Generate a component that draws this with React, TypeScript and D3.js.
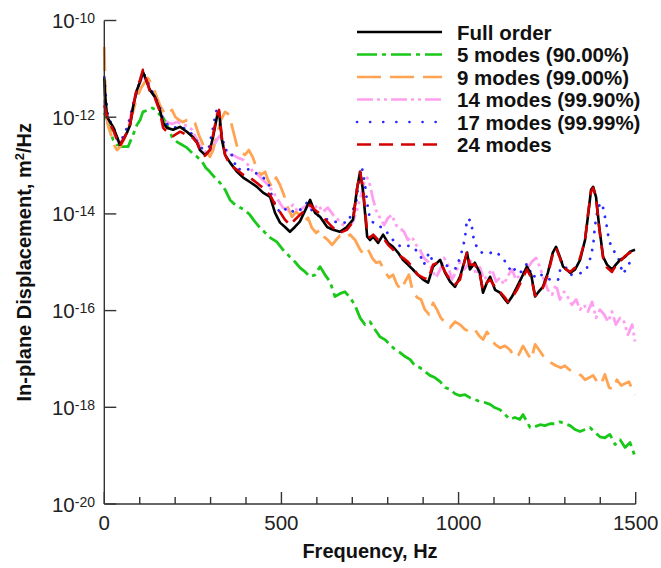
import React from "react";
import * as d3 from "d3";

// Power spectral density of in-plane displacement, stored as [frequency Hz, log10(m^2/Hz)]
const fullOrder: [number, number][] = [
  [0, -11.19], [2, -11.54], [8, -11.99], [16, -12.1], [25, -12.2], [36, -12.41], [44, -12.57], [53, -12.47],
  [64, -12.32], [73, -12.16], [81, -11.79], [92, -11.44], [101, -11.27], [109, -11.06], [121, -11.29], [129, -11.44],
  [143, -11.58], [157, -11.85], [166, -12.12], [177, -12.22], [194, -12.26], [214, -12.2], [233, -12.3], [250, -12.41],
  [262, -12.53], [270, -12.68], [284, -12.78], [298, -12.68], [307, -12.41], [318, -11.99], [324, -11.89], [332, -12.47],
  [341, -12.78], [355, -12.94], [375, -13.13], [392, -13.25], [411, -13.34], [431, -13.44], [448, -13.56], [468, -13.65],
  [482, -13.98], [496, -14.18], [510, -14.27], [524, -14.37], [538, -14.27], [552, -14.16], [572, -13.85], [581, -13.71],
  [595, -13.98], [609, -14.06], [629, -14.27], [646, -14.33], [665, -14.37], [685, -14.27], [702, -14.12], [713, -13.5],
  [722, -13.13], [730, -13.5], [742, -14.47], [750, -14.54], [759, -14.47], [773, -14.6], [787, -14.43], [801, -14.6],
  [815, -14.68], [829, -14.8], [843, -14.95], [857, -15.05], [871, -15.15], [885, -15.26], [900, -15.36], [914, -15.42],
  [928, -15.09], [948, -14.95], [962, -15.22], [976, -15.4], [990, -15.51], [1004, -15.3], [1024, -14.8], [1032, -15.15],
  [1046, -15.01], [1060, -15.22], [1069, -15.63], [1080, -15.42], [1089, -15.3], [1103, -15.57], [1117, -15.63], [1131, -15.77],
  [1139, -15.84], [1151, -15.71], [1165, -15.51], [1179, -15.3], [1193, -15.09], [1205, -15.26], [1216, -15.71], [1224, -15.63],
  [1238, -15.51], [1252, -15.22], [1266, -14.8], [1275, -14.68], [1286, -14.89], [1295, -15.09], [1315, -15.22], [1329, -15.15],
  [1343, -14.95], [1357, -14.54], [1365, -14.06], [1374, -13.5], [1380, -13.44], [1388, -13.65], [1397, -14.27], [1408, -14.89],
  [1419, -15.05], [1433, -15.15], [1444, -15.05], [1456, -14.95], [1470, -14.89], [1484, -14.78], [1498, -14.74],
];

const modes5: [number, number][] = [
  [0, -11.91], [8, -12.06], [16, -12.26], [25, -12.47], [36, -12.57], [50, -12.61], [67, -12.61], [81, -12.37],
  [92, -12.16], [101, -12.06], [109, -11.89], [123, -11.85], [135, -11.81], [146, -11.85], [157, -11.95], [166, -12.01],
  [177, -12.16], [191, -12.41], [205, -12.51], [219, -12.57], [233, -12.63], [248, -12.74], [262, -12.82], [276, -12.92],
  [287, -13.05], [298, -13.13], [312, -13.25], [327, -13.36], [341, -13.5], [355, -13.71], [369, -13.81], [383, -13.87],
  [397, -13.92], [411, -14.02], [425, -14.16], [440, -14.29], [454, -14.39], [468, -14.49], [487, -14.58], [504, -14.74],
  [524, -14.89], [538, -14.99], [552, -15.11], [567, -15.2], [581, -15.3], [595, -15.26], [609, -15.09], [623, -15.26],
  [637, -15.4], [651, -15.71], [665, -15.65], [679, -15.61], [694, -15.73], [708, -15.9], [722, -16.15], [736, -16.29],
  [750, -16.23], [764, -16.39], [778, -16.54], [792, -16.6], [806, -16.7], [821, -16.81], [835, -16.87], [849, -16.95],
  [863, -17.01], [877, -17.14], [891, -17.18], [905, -17.26], [919, -17.34], [934, -17.39], [948, -17.47], [962, -17.59],
  [976, -17.63], [990, -17.72], [1004, -17.76], [1018, -17.74], [1032, -17.8], [1046, -17.84], [1060, -17.88], [1074, -17.9],
  [1089, -17.94], [1103, -18.01], [1117, -18.05], [1131, -18.15], [1145, -18.25], [1159, -18.21], [1173, -18.25], [1182, -18.15],
  [1193, -18.3], [1202, -18.42], [1216, -18.4], [1230, -18.36], [1244, -18.38], [1258, -18.34], [1272, -18.34], [1286, -18.3],
  [1300, -18.34], [1315, -18.38], [1329, -18.46], [1343, -18.5], [1357, -18.46], [1371, -18.42], [1385, -18.52], [1399, -18.61],
  [1413, -18.63], [1427, -18.56], [1442, -18.77], [1456, -18.67], [1470, -18.83], [1484, -18.73], [1498, -19.02],
];

const modes9: [number, number][] = [
  [0, -10.55], [2, -11.23], [5, -11.85], [10, -12.16], [19, -12.37], [27, -12.57], [36, -12.68], [47, -12.59],
  [58, -12.43], [70, -12.16], [81, -11.89], [92, -11.6], [104, -11.39], [115, -11.27], [123, -11.19], [135, -11.33],
  [146, -11.54], [157, -11.75], [169, -11.91], [180, -11.95], [191, -11.85], [200, -11.99], [211, -12.06], [222, -12.1],
  [233, -12.06], [245, -12.04], [256, -12.12], [267, -12.37], [279, -12.57], [290, -12.72], [298, -12.82], [307, -12.68],
  [318, -12.37], [329, -12.06], [341, -11.89], [352, -11.95], [363, -12.26], [375, -12.61], [386, -12.72], [397, -12.78],
  [408, -12.68], [420, -12.84], [431, -13.09], [442, -13.19], [454, -13.13], [462, -13.3], [473, -13.44], [485, -13.25],
  [496, -13.4], [507, -13.61], [518, -13.87], [530, -14.06], [541, -13.96], [552, -14.02], [564, -14.16], [575, -14.08],
  [586, -14.29], [598, -14.39], [609, -14.33], [620, -14.47], [631, -14.54], [643, -14.64], [654, -14.54], [665, -14.45],
  [679, -14.49], [694, -14.43], [708, -14.54], [722, -14.74], [733, -14.84], [745, -14.74], [756, -14.91], [767, -15.01],
  [778, -14.99], [792, -15.2], [804, -15.32], [815, -15.26], [826, -15.46], [838, -15.57], [849, -15.4], [860, -15.26],
  [871, -15.61], [883, -15.73], [894, -15.77], [905, -15.98], [917, -16.08], [928, -15.84], [939, -15.98], [950, -16.15],
  [962, -16.25], [976, -16.35], [990, -16.23], [1004, -16.29], [1018, -16.39], [1032, -16.44], [1046, -16.39], [1058, -16.52],
  [1069, -16.6], [1080, -16.44], [1091, -16.56], [1103, -16.7], [1117, -16.77], [1131, -16.73], [1145, -16.81], [1159, -16.97],
  [1170, -16.91], [1182, -16.73], [1193, -16.87], [1205, -17.01], [1216, -16.7], [1227, -16.81], [1238, -16.93], [1250, -17.01],
  [1261, -17.08], [1275, -17.14], [1289, -17.18], [1300, -17.14], [1312, -17.22], [1323, -17.26], [1334, -17.3], [1346, -17.34],
  [1357, -17.43], [1368, -17.39], [1380, -17.34], [1391, -17.47], [1402, -17.53], [1413, -17.32], [1425, -17.59], [1436, -17.63],
  [1447, -17.43], [1459, -17.55], [1470, -17.51], [1481, -17.47], [1490, -17.63], [1498, -17.74],
];

const modes14: [number, number][] = [
  [0, -11.64], [5, -11.85], [13, -12.1], [25, -12.26], [36, -12.47], [44, -12.53], [56, -12.43], [67, -12.22],
  [78, -11.85], [89, -11.5], [101, -11.27], [109, -11.13], [121, -11.27], [132, -11.44], [143, -11.6], [154, -11.81],
  [166, -12.01], [177, -12.1], [191, -12.14], [205, -12.1], [219, -12.14], [233, -12.18], [248, -12.26], [259, -12.43],
  [270, -12.59], [284, -12.72], [298, -12.68], [310, -12.57], [321, -12.43], [329, -12.37], [338, -12.61], [349, -12.78],
  [363, -12.78], [377, -12.84], [392, -12.88], [406, -12.99], [420, -13.13], [434, -13.19], [448, -13.3], [462, -13.4],
  [476, -13.54], [490, -13.71], [504, -13.87], [518, -13.92], [533, -13.81], [547, -13.96], [561, -13.87], [575, -13.81],
  [589, -13.92], [603, -13.81], [617, -13.96], [631, -13.87], [646, -14.02], [660, -14.12], [674, -14.23], [688, -14.29],
  [702, -14.16], [713, -13.92], [725, -13.61], [733, -13.36], [742, -13.25], [750, -13.4], [759, -13.71], [767, -13.92],
  [778, -14.08], [790, -14.23], [801, -14.08], [812, -14.02], [823, -14.23], [835, -14.29], [846, -14.37], [857, -14.54],
  [868, -14.47], [880, -14.64], [891, -14.74], [902, -14.91], [914, -14.99], [925, -15.15], [936, -15.32], [948, -15.15],
  [959, -14.91], [970, -15.05], [981, -15.36], [993, -15.2], [1004, -14.99], [1015, -15.15], [1027, -15.05], [1038, -14.95],
  [1049, -15.26], [1060, -15.11], [1072, -15.36], [1083, -15.26], [1094, -15.15], [1106, -15.4], [1117, -15.32], [1128, -15.46],
  [1139, -15.28], [1151, -15.15], [1162, -15.36], [1173, -15.26], [1185, -15.2], [1196, -15.11], [1207, -14.99], [1219, -14.91],
  [1230, -15.11], [1241, -15.36], [1252, -15.57], [1264, -15.67], [1275, -15.46], [1286, -15.77], [1298, -15.61], [1309, -15.73],
  [1320, -15.88], [1332, -15.77], [1343, -15.98], [1354, -15.88], [1365, -16.02], [1377, -15.82], [1388, -16.15], [1399, -15.98],
  [1411, -16.08], [1422, -16.23], [1433, -16.02], [1444, -16.29], [1456, -16.15], [1467, -16.23], [1478, -16.5], [1490, -16.29],
  [1498, -16.64],
];

const modes17: [number, number][] = [
  [0, -11.17], [5, -11.64], [10, -11.95], [19, -12.12], [27, -12.22], [36, -12.43], [44, -12.51], [56, -12.37],
  [67, -12.16], [78, -11.85], [89, -11.54], [101, -11.23], [109, -11.06], [118, -11.19], [129, -11.39], [143, -11.58],
  [157, -11.81], [166, -12.06], [180, -12.16], [194, -12.22], [208, -12.2], [222, -12.22], [236, -12.26], [250, -12.37],
  [262, -12.51], [273, -12.63], [284, -12.68], [296, -12.61], [307, -12.22], [315, -11.89], [321, -11.83], [329, -12.26],
  [341, -12.68], [355, -12.68], [375, -13.09], [394, -13.05], [411, -13.09], [425, -13.15], [440, -13.19], [462, -13.34],
  [476, -13.71], [496, -13.98], [518, -13.87], [538, -13.98], [552, -13.92], [572, -13.77], [589, -13.96], [609, -14.06],
  [631, -14.12], [660, -14.18], [688, -14.18], [711, -13.75], [719, -13.3], [727, -13.03], [736, -13.4], [742, -13.77],
  [750, -14.12], [767, -14.23], [787, -14.29], [806, -14.45], [823, -14.62], [840, -14.68], [857, -14.66], [871, -14.68],
  [891, -14.84], [902, -15.05], [917, -14.8], [925, -14.95], [950, -14.97], [962, -15.05], [976, -15.11], [993, -15.13],
  [1007, -14.84], [1018, -14.51], [1024, -14.1], [1035, -14.14], [1043, -14.54], [1055, -14.74], [1066, -14.8], [1083, -14.82],
  [1103, -14.78], [1123, -14.89], [1139, -15.07], [1151, -15.22], [1162, -15.11], [1176, -15.2], [1193, -15.03], [1210, -15.32],
  [1224, -15.22], [1238, -15.28], [1252, -15.34], [1266, -15.38], [1281, -15.36], [1292, -14.97], [1303, -15.11], [1317, -15.26],
  [1334, -15.24], [1348, -15.22], [1360, -15.15], [1368, -15.03], [1380, -14.66], [1385, -14.25], [1394, -13.85], [1405, -13.77],
  [1416, -14.16], [1425, -14.56], [1436, -14.74], [1450, -14.89], [1464, -15.24], [1476, -15.11], [1487, -14.95], [1498, -14.91],
];

const modes24: [number, number][] = [
  [0, -11.75], [5, -11.89], [10, -12.06], [19, -12.18], [27, -12.3], [36, -12.47], [44, -12.59], [53, -12.47],
  [64, -12.32], [73, -12.14], [81, -11.79], [92, -11.39], [101, -11.23], [109, -11.02], [121, -11.27], [129, -11.48],
  [143, -11.6], [157, -11.89], [166, -12.22], [177, -12.3], [194, -12.39], [214, -12.3], [233, -12.37], [250, -12.43],
  [262, -12.53], [270, -12.68], [284, -12.8], [298, -12.68], [307, -12.37], [318, -11.95], [324, -11.85], [332, -12.43],
  [341, -12.78], [355, -12.99], [375, -13.09], [392, -13.19], [411, -13.25], [431, -13.36], [448, -13.46], [468, -13.61],
  [482, -13.81], [496, -13.96], [510, -14.12], [524, -14.23], [538, -14.12], [552, -14.02], [567, -13.92], [581, -13.81],
  [595, -13.92], [609, -14.0], [629, -14.16], [646, -14.29], [665, -14.39], [685, -14.33], [702, -14.16], [713, -13.5],
  [722, -13.13], [730, -13.46], [742, -14.37], [750, -14.49], [759, -14.43], [773, -14.54], [787, -14.49], [801, -14.64],
  [815, -14.74], [829, -14.84], [843, -14.91], [857, -14.99], [871, -15.11], [885, -15.26], [900, -15.32], [914, -15.36],
  [928, -15.05], [948, -14.99], [962, -15.2], [976, -15.36], [990, -15.46], [1004, -15.36], [1024, -14.78], [1032, -15.05],
  [1046, -15.05], [1060, -15.26], [1069, -15.57], [1080, -15.42], [1089, -15.36], [1103, -15.51], [1117, -15.61], [1131, -15.73],
  [1139, -15.82], [1151, -15.73], [1165, -15.57], [1179, -15.36], [1193, -15.15], [1205, -15.32], [1216, -15.69], [1224, -15.65],
  [1238, -15.53], [1252, -15.26], [1266, -14.84], [1275, -14.7], [1286, -14.91], [1295, -15.11], [1315, -15.2], [1329, -15.11],
  [1343, -14.91], [1357, -14.54], [1365, -14.02], [1374, -13.54], [1380, -13.46], [1388, -13.67], [1397, -14.29], [1408, -14.91],
  [1419, -15.11], [1433, -15.2], [1444, -15.07], [1456, -14.99], [1470, -14.87], [1484, -14.8], [1498, -14.74],
];

const seriesLabels = [
  "Full order",
  "5 modes (90.00%)",
  "9 modes (99.00%)",
  "14 modes (99.90%)",
  "17 modes (99.99%)",
  "24 modes",
];

const xMajorTicks = [0, 500, 1000, 1500];
const xMinorTicks = [100, 200, 300, 400, 600, 700, 800, 900, 1100, 1200, 1300, 1400];
const yTickExponents = [-10, -12, -14, -16, -18, -20];

const FONT = "'Liberation Sans', Arial, Helvetica, sans-serif";
const W = 661;
const H = 568;
const plot = { left: 104.3, right: 635.7, top: 20.5, bottom: 504 };

const styles = [
  { data: fullOrder, color: "#000000", dash: "", width: 2.6, cap: "butt" },
  { data: modes5, color: "#19c819", dash: "20 5 4 5", width: 2.8, cap: "butt" },
  { data: modes9, color: "#ffa452", dash: "24 9", width: 2.8, cap: "butt" },
  { data: modes14, color: "#ff9ff0", dash: "16 4 3 4 3 4", width: 2.8, cap: "butt" },
  { data: modes17, color: "#2a2aff", dash: "0.1 9", width: 2.8, cap: "round" },
  { data: modes24, color: "#d40000", dash: "14 8", width: 2.6, cap: "butt" },
];

// draw order: reduced models first, full order and 24 modes on top
const drawOrder = [1, 2, 3, 4, 0, 5];

export default function App() {
  const x = d3.scaleLinear().domain([0, 1500]).range([plot.left, plot.right]);
  const y = d3.scaleLog().domain([1e-20, 1e-10]).range([plot.bottom, plot.top]);
  const line = d3
    .line<[number, number]>()
    .x((d) => x(d[0]))
    .y((d) => y(Math.pow(10, d[1])));

  const legendX0 = 357;
  const legendX1 = 442;
  const legendTextX = 457;
  const legendY0 = 32;
  const legendStep = 22.5;

  return (
    <svg
      width={W}
      height={H}
      viewBox={`0 0 ${W} ${H}`}
      style={{ position: "absolute", left: 0, top: 0, background: "#fff" }}
      fontFamily={FONT}
    >
      <rect x={0} y={0} width={W} height={H} fill="#fff" />

      {/* curves */}
      <g fill="none" strokeLinejoin="round">
        {drawOrder.map((i) => {
          const s = styles[i];
          return (
            <path
              key={i}
              d={line(s.data) || ""}
              stroke={s.color}
              strokeWidth={s.width}
              strokeDasharray={s.dash || undefined}
              strokeLinecap={s.cap as any}
            />
          );
        })}
      </g>

      {/* axes */}
      <g stroke="#333" strokeWidth={1.4}>
        <line x1={plot.left} x2={plot.left} y1={plot.top} y2={plot.bottom} />
        <line x1={plot.left} x2={plot.right} y1={plot.bottom} y2={plot.bottom} />
        {yTickExponents.map((e) => (
          <line key={e} x1={plot.left} x2={plot.left + 12} y1={y(Math.pow(10, e))} y2={y(Math.pow(10, e))} />
        ))}
        {xMajorTicks.map((t) => (
          <line key={t} x1={x(t)} x2={x(t)} y1={plot.bottom} y2={plot.bottom - 12} />
        ))}
        {xMinorTicks.map((t) => (
          <line key={t} x1={x(t)} x2={x(t)} y1={plot.bottom} y2={plot.bottom - 7} />
        ))}
      </g>

      {/* tick labels */}
      <g fill="#222" fontSize={20.5}>
        {xMajorTicks.map((t) => (
          <text key={t} x={x(t)} y={530} textAnchor="middle">
            {t}
          </text>
        ))}
        {yTickExponents.map((e) => (
          <text key={e} x={95} y={y(Math.pow(10, e)) + 7.5} textAnchor="end">
            10
            <tspan dy={-5} fontSize={14}>
              {e}
            </tspan>
          </text>
        ))}
      </g>

      {/* axis titles */}
      <text
        x={(plot.left + plot.right) / 2}
        y={558}
        textAnchor="middle"
        fontSize={20}
        fontWeight="bold"
        fill="#111"
      >
        Frequency, Hz
      </text>
      <text
        transform={`translate(31, ${(plot.top + plot.bottom) / 2}) rotate(-90)`}
        textAnchor="middle"
        fontSize={20}
        fontWeight="bold"
        fill="#111"
      >
        In-plane Displacement, m
        <tspan dy={-7} fontSize={13}>
          2
        </tspan>
        <tspan dy={7}>/Hz</tspan>
      </text>

      {/* legend */}
      <g>
        {seriesLabels.map((label, i) => {
          const s = styles[i];
          const ly = legendY0 + i * legendStep;
          return (
            <g key={label}>
              <line
                x1={legendX0}
                x2={legendX1}
                y1={ly}
                y2={ly}
                stroke={s.color}
                strokeWidth={2.6}
                strokeDasharray={i === 4 ? "0.1 13" : s.dash || undefined}
                strokeLinecap={s.cap as any}
              />
              <text x={legendTextX} y={ly + 7.5} fontSize={20.5} fontWeight="bold" fill="#111">
                {label}
              </text>
            </g>
          );
        })}
      </g>
    </svg>
  );
}
